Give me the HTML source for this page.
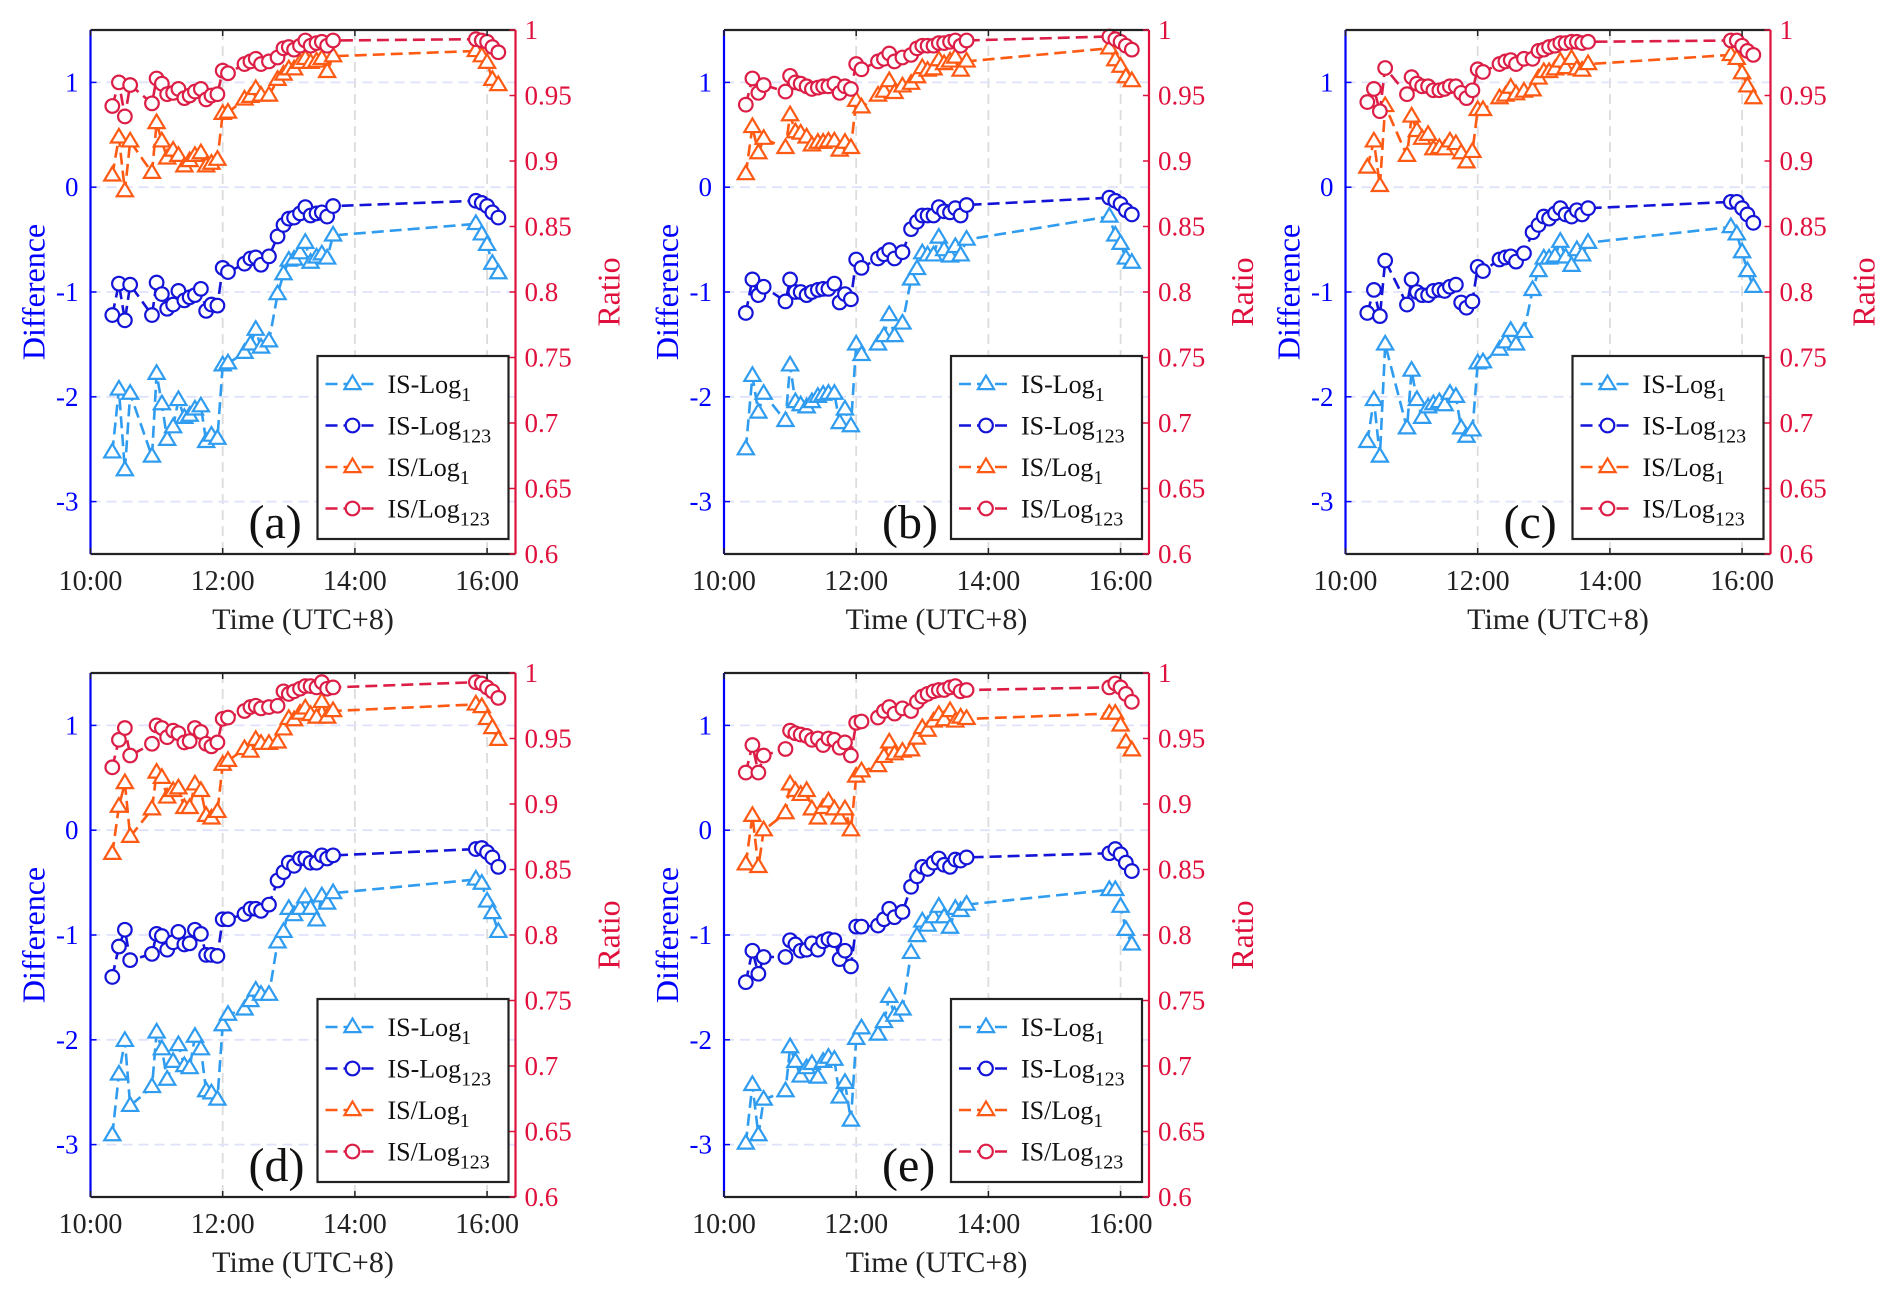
<!DOCTYPE html>
<html><head><meta charset="utf-8"><style>
html,body{margin:0;padding:0;background:#fff;}
svg{display:block;}
svg text{font-family:"Liberation Serif","Times New Roman",serif;}
</style></head>
<body>
<svg id="fig" width="1892" height="1297" viewBox="0 0 1892 1297" font-family="Liberation Serif, serif"></svg>
<script>
// ---- data ----
const times = [10.33,10.43,10.52,10.60,10.93,11.0,11.08,11.16,11.25,11.33,11.42,11.50,11.58,11.67,11.75,11.83,11.92,12.0,12.08,12.33,12.42,12.5,12.58,12.7,12.83,12.92,13.0,13.08,13.17,13.25,13.33,13.42,13.5,13.58,13.67,15.83,15.92,16.0,16.08,16.17];
const xTickValues = [10,12,14,16];
const xTickLabels = ["10:00","12:00","14:00","16:00"];
const leftTicks = [-3,-2,-1,0,1];
const rightTicks = [0.6,0.65,0.7,0.75,0.8,0.85,0.9,0.95,1];
const rightTickLabels = ["0.6","0.65","0.7","0.75","0.8","0.85","0.9","0.95","1"];
const panelLabels = ["(a)","(b)","(c)","(d)","(e)"];

const a_isLog1 = [-2.53,-1.93,-2.70,-1.97,-2.57,-1.78,-2.07,-2.41,-2.29,-2.03,-2.20,-2.18,-2.12,-2.09,-2.43,-2.37,-2.40,-1.70,-1.68,-1.58,-1.50,-1.36,-1.53,-1.47,-1.02,-0.83,-0.70,-0.69,-0.63,-0.53,-0.72,-0.67,-0.64,-0.68,-0.46,-0.35,-0.45,-0.55,-0.73,-0.82];
const a_isLog123 = [-1.22,-0.92,-1.27,-0.93,-1.22,-0.91,-1.02,-1.16,-1.12,-0.99,-1.08,-1.05,-1.03,-0.97,-1.18,-1.12,-1.13,-0.77,-0.81,-0.73,-0.68,-0.67,-0.74,-0.66,-0.47,-0.36,-0.30,-0.29,-0.25,-0.19,-0.27,-0.25,-0.24,-0.28,-0.18,-0.13,-0.15,-0.18,-0.24,-0.29];
const a_ratio1 = [0.889,0.918,0.877,0.915,0.891,0.929,0.915,0.902,0.908,0.904,0.896,0.900,0.904,0.906,0.896,0.898,0.901,0.936,0.937,0.947,0.949,0.955,0.950,0.950,0.962,0.966,0.970,0.970,0.975,0.978,0.975,0.976,0.978,0.968,0.980,0.984,0.980,0.975,0.962,0.958];
const a_ratio123 = [0.942,0.960,0.934,0.958,0.944,0.963,0.959,0.951,0.952,0.955,0.948,0.950,0.953,0.955,0.947,0.950,0.951,0.969,0.967,0.974,0.976,0.978,0.974,0.976,0.979,0.986,0.987,0.985,0.988,0.992,0.988,0.990,0.991,0.988,0.992,0.993,0.992,0.991,0.987,0.983];

const b_isLog1 = [-2.5,-1.8,-2.15,-1.97,-2.23,-1.7,-2.05,-2.08,-2.1,-2.05,-2.0,-1.98,-1.97,-1.97,-2.25,-2.12,-2.28,-1.5,-1.6,-1.5,-1.42,-1.22,-1.42,-1.3,-0.88,-0.78,-0.63,-0.65,-0.65,-0.48,-0.6,-0.66,-0.57,-0.65,-0.5,-0.28,-0.46,-0.54,-0.68,-0.72];
const b_isLog123 = [-1.2,-0.88,-1.03,-0.95,-1.09,-0.88,-1.0,-1.0,-1.03,-1.0,-0.98,-0.97,-0.97,-0.92,-1.1,-1.02,-1.07,-0.69,-0.77,-0.68,-0.64,-0.6,-0.68,-0.62,-0.4,-0.33,-0.27,-0.27,-0.27,-0.19,-0.23,-0.24,-0.2,-0.27,-0.17,-0.1,-0.13,-0.16,-0.22,-0.26];
const b_ratio1 = [0.890,0.926,0.906,0.917,0.910,0.935,0.922,0.921,0.918,0.912,0.914,0.914,0.915,0.915,0.908,0.914,0.910,0.946,0.941,0.950,0.953,0.961,0.952,0.957,0.959,0.964,0.971,0.969,0.970,0.977,0.974,0.976,0.979,0.969,0.976,0.986,0.977,0.972,0.964,0.961];
const b_ratio123 = [0.943,0.963,0.952,0.958,0.953,0.965,0.960,0.959,0.957,0.955,0.956,0.957,0.957,0.959,0.952,0.957,0.955,0.974,0.970,0.976,0.978,0.982,0.976,0.979,0.981,0.986,0.988,0.988,0.988,0.990,0.990,0.991,0.992,0.988,0.992,0.995,0.993,0.991,0.988,0.985];

const c_isLog1 = [-2.43,-2.03,-2.57,-1.5,-2.3,-1.75,-2.03,-2.2,-2.1,-2.07,-2.05,-2.08,-1.97,-2.0,-2.3,-2.38,-2.32,-1.68,-1.67,-1.55,-1.48,-1.37,-1.5,-1.38,-0.98,-0.8,-0.68,-0.68,-0.66,-0.52,-0.67,-0.75,-0.6,-0.65,-0.53,-0.38,-0.45,-0.62,-0.8,-0.95];
const c_isLog123 = [-1.2,-0.98,-1.23,-0.7,-1.12,-0.88,-1.0,-1.03,-1.03,-0.99,-0.98,-0.99,-0.95,-0.93,-1.1,-1.15,-1.09,-0.76,-0.8,-0.69,-0.67,-0.66,-0.71,-0.63,-0.43,-0.36,-0.28,-0.3,-0.25,-0.2,-0.26,-0.28,-0.22,-0.26,-0.2,-0.14,-0.14,-0.2,-0.26,-0.34];
const c_ratio1 = [0.895,0.915,0.881,0.942,0.904,0.934,0.923,0.917,0.920,0.909,0.910,0.909,0.915,0.913,0.906,0.899,0.907,0.939,0.939,0.948,0.950,0.956,0.951,0.953,0.954,0.963,0.968,0.968,0.970,0.976,0.971,0.978,0.970,0.969,0.974,0.981,0.978,0.967,0.957,0.948];
const c_ratio123 = [0.945,0.955,0.938,0.971,0.951,0.964,0.959,0.957,0.957,0.954,0.954,0.955,0.957,0.957,0.952,0.948,0.954,0.970,0.968,0.974,0.976,0.977,0.974,0.978,0.978,0.984,0.985,0.987,0.988,0.990,0.990,0.991,0.991,0.990,0.991,0.992,0.992,0.988,0.984,0.981];

const d_isLog1 = [-2.91,-2.33,-2.01,-2.63,-2.45,-1.93,-2.09,-2.38,-2.21,-2.05,-2.25,-2.27,-1.97,-2.09,-2.49,-2.51,-2.57,-1.86,-1.76,-1.71,-1.63,-1.53,-1.57,-1.57,-1.07,-0.97,-0.75,-0.81,-0.75,-0.64,-0.75,-0.86,-0.63,-0.70,-0.60,-0.47,-0.51,-0.68,-0.79,-0.97];
const d_isLog123 = [-1.40,-1.11,-0.95,-1.24,-1.18,-0.99,-1.01,-1.14,-1.07,-0.97,-1.09,-1.08,-0.95,-0.99,-1.19,-1.19,-1.20,-0.85,-0.85,-0.80,-0.75,-0.75,-0.77,-0.71,-0.48,-0.40,-0.31,-0.34,-0.27,-0.27,-0.31,-0.31,-0.24,-0.27,-0.24,-0.18,-0.17,-0.21,-0.26,-0.35];
const d_ratio1 = [0.862,0.898,0.916,0.875,0.896,0.924,0.920,0.905,0.910,0.912,0.897,0.897,0.915,0.910,0.891,0.889,0.894,0.930,0.933,0.942,0.940,0.949,0.946,0.946,0.947,0.957,0.965,0.964,0.969,0.973,0.968,0.966,0.978,0.966,0.971,0.976,0.974,0.965,0.958,0.949];
const d_ratio123 = [0.928,0.949,0.958,0.937,0.946,0.960,0.958,0.951,0.956,0.954,0.947,0.948,0.958,0.955,0.946,0.944,0.947,0.965,0.966,0.971,0.974,0.975,0.973,0.974,0.975,0.986,0.984,0.986,0.988,0.990,0.990,0.989,0.993,0.988,0.989,0.993,0.992,0.989,0.986,0.981];

const e_isLog1 = [-2.99,-2.43,-2.91,-2.57,-2.49,-2.07,-2.21,-2.35,-2.27,-2.23,-2.36,-2.21,-2.17,-2.19,-2.55,-2.41,-2.77,-1.99,-1.89,-1.95,-1.83,-1.59,-1.77,-1.71,-1.17,-1.01,-0.87,-0.91,-0.83,-0.73,-0.83,-0.93,-0.75,-0.77,-0.71,-0.57,-0.57,-0.73,-0.95,-1.09];
const e_isLog123 = [-1.45,-1.15,-1.37,-1.21,-1.21,-1.05,-1.09,-1.15,-1.14,-1.08,-1.14,-1.06,-1.04,-1.05,-1.23,-1.15,-1.30,-0.92,-0.92,-0.91,-0.85,-0.75,-0.83,-0.78,-0.54,-0.44,-0.35,-0.37,-0.31,-0.27,-0.33,-0.35,-0.28,-0.29,-0.26,-0.22,-0.18,-0.23,-0.31,-0.39];
const e_ratio1 = [0.854,0.891,0.852,0.880,0.893,0.915,0.910,0.907,0.910,0.896,0.889,0.897,0.902,0.896,0.889,0.896,0.880,0.921,0.925,0.929,0.936,0.947,0.938,0.940,0.941,0.950,0.958,0.956,0.963,0.968,0.964,0.971,0.963,0.966,0.965,0.969,0.969,0.960,0.947,0.941];
const e_ratio123 = [0.924,0.945,0.924,0.937,0.942,0.956,0.954,0.953,0.952,0.949,0.950,0.945,0.950,0.949,0.943,0.947,0.937,0.962,0.963,0.966,0.971,0.974,0.969,0.973,0.971,0.978,0.982,0.984,0.986,0.987,0.987,0.989,0.990,0.986,0.987,0.989,0.992,0.989,0.984,0.978];

const panelData = [
  [a_isLog1,a_isLog123,a_ratio1,a_ratio123],
  [b_isLog1,b_isLog123,b_ratio1,b_ratio123],
  [c_isLog1,c_isLog123,c_ratio1,c_ratio123],
  [d_isLog1,d_isLog123,d_ratio1,d_ratio123],
  [e_isLog1,e_isLog123,e_ratio1,e_ratio123]
];

// ---- layout ----
const layout = [[90.5,30],[724,30],[1345.5,30],[90.5,673],[724,673]];
const PW = 425, PH = 524;
const X0 = 10, X1 = 16.43, L0 = -3.5, L1 = 1.5, R0 = 0.6, R1 = 1.0;
const FONT = '"Liberation Serif", "Times New Roman", serif';
const seriesStyle = [
  {color:"#2f9cf0", marker:"tri", axis:"L", name:"is-log1"},
  {color:"#1414d8", marker:"circ", axis:"L", name:"is-log123"},
  {color:"#ff5a14", marker:"tri", axis:"R", name:"is-over-log1"},
  {color:"#dc1e46", marker:"circ", axis:"R", name:"is-over-log123"}
];
const legendNames = [["IS-Log","1"],["IS-Log","123"],["IS/Log","1"],["IS/Log","123"]];

const NS = "http://www.w3.org/2000/svg";
const svg = document.getElementById("fig");
function mk(tag, attrs, parent){
  const el = document.createElementNS(NS, tag);
  for (const k in attrs) el.setAttribute(k, attrs[k]);
  if (tag === "text") el.setAttribute("font-family", FONT);
  (parent||svg).appendChild(el);
  return el;
}
function markerEl(g, type, x, y, color){
  let el;
  if (type === "tri"){
    const s = 8.5;
    el = mk("polygon",{points:`${x},${y-s} ${x-s*0.95},${y+s*0.6} ${x+s*0.95},${y+s*0.6}`,fill:"#fff",stroke:color,"stroke-width":2.2},g);
  } else {
    el = mk("circle",{cx:x,cy:y,r:6.8,fill:"#fff",stroke:color,"stroke-width":2.2},g);
  }
  return el;
}

layout.forEach((pos, pi) => {
  const px = pos[0], py = pos[1];
  const g = mk("g",{});
  
  
  const xs = t => px + (t - X0) / (X1 - X0) * PW;
  const yl = v => py + PH - (v - L0) / (L1 - L0) * PH;
  const yr = v => py + PH - (v - R0) / (R1 - R0) * PH;

  // grid
  xTickValues.forEach(t => {
    if (t > X0){
      const gl = mk("line",{x1:xs(t),x2:xs(t),y1:py,y2:py+PH,stroke:"#dcdcdc","stroke-width":1.8,"stroke-dasharray":"10,6"},g);
      
      
    }
  });
  leftTicks.forEach(v => {
    const gl = mk("line",{x1:px,x2:px+PW,y1:yl(v),y2:yl(v),stroke:"#dfe2fb","stroke-width":1.8,"stroke-dasharray":"10,6"},g);
    
    
  });

  // series
  const vals = panelData[pi];
  seriesStyle.forEach((st, si) => {
    const sg = mk("g",{},g);
    
    
    const yf = st.axis === "L" ? yl : yr;
    const pts = times.map((t,i) => xs(t).toFixed(1) + "," + yf(vals[si][i]).toFixed(1)).join(" ");
    const pl = mk("polyline",{points:pts,fill:"none",stroke:st.color,"stroke-width":2.6,"stroke-dasharray":"12,6"},sg);
    
    
    times.forEach((t,i) => {
      const m = markerEl(sg, st.marker, xs(t), yf(vals[si][i]), st.color);
      
      
    });
  });

  // axes frame
  const top = mk("line",{x1:px,x2:px+PW,y1:py,y2:py,stroke:"#222","stroke-width":2.2},g);
  
  
  const bot = mk("line",{x1:px,x2:px+PW,y1:py+PH,y2:py+PH,stroke:"#222","stroke-width":2.2},g);
  
  
  const la = mk("line",{x1:px,x2:px,y1:py,y2:py+PH,stroke:"#0000ff","stroke-width":2.2},g);
  
  
  const ra = mk("line",{x1:px+PW,x2:px+PW,y1:py,y2:py+PH,stroke:"#e0103c","stroke-width":2.2},g);
  
  

  // x ticks
  xTickValues.forEach((t,i) => {
    mk("line",{x1:xs(t),x2:xs(t),y1:py+PH,y2:py+PH-6,stroke:"#222","stroke-width":1.5},g);
    mk("line",{x1:xs(t),x2:xs(t),y1:py,y2:py+6,stroke:"#222","stroke-width":1.5},g);
    const tl = mk("text",{x:xs(t),y:py+PH+36,"text-anchor":"middle","font-size":28,fill:"#222"},g);
    tl.textContent = xTickLabels[i];
    
    
  });
  leftTicks.forEach(v => {
    mk("line",{x1:px,x2:px+6,y1:yl(v),y2:yl(v),stroke:"#0000ff","stroke-width":1.5},g);
    const tl = mk("text",{x:px-12,y:yl(v)+9,"text-anchor":"end","font-size":27,fill:"#0000ff"},g);
    tl.textContent = String(v);
    
    
  });
  rightTicks.forEach((v,i) => {
    mk("line",{x1:px+PW,x2:px+PW-6,y1:yr(v),y2:yr(v),stroke:"#e0103c","stroke-width":1.5},g);
    const tl = mk("text",{x:px+PW+9,y:yr(v)+9,"text-anchor":"start","font-size":27,fill:"#e0103c"},g);
    tl.textContent = rightTickLabels[i];
    
    
  });

  // axis titles
  const xt = mk("text",{x:px+PW/2,y:py+PH+75,"text-anchor":"middle","font-size":30,fill:"#222"},g);
  xt.textContent = "Time (UTC+8)";
  
  
  const ylt = mk("text",{x:0,y:0,"text-anchor":"middle","font-size":32,fill:"#0000ff",transform:`translate(${px-46},${py+PH/2}) rotate(-90)`},g);
  ylt.textContent = "Difference";
  
  
  const yrt = mk("text",{x:0,y:0,"text-anchor":"middle","font-size":32,fill:"#e0103c",transform:`translate(${px+PW+104},${py+PH/2}) rotate(-90)`},g);
  yrt.textContent = "Ratio";
  
  

  // panel label
  const pl = mk("text",{x:px+158,y:py+PH-16,"font-size":48,fill:"#111"},g);
  pl.textContent = panelLabels[pi];
  
  

  // legend
  const lg = mk("g",{},g);
  
  
  mk("rect",{x:px+227,y:py+326,width:191,height:183,fill:"#fff",stroke:"#222","stroke-width":2.2},lg);
  seriesStyle.forEach((st, si) => {
    const ey = py + 354 + si*41.5;
    const eg = mk("g",{},lg);
    
    
    mk("line",{x1:px+235,x2:px+289,y1:ey,y2:ey,stroke:st.color,"stroke-width":2.6,"stroke-dasharray":"12,6"},eg);
    markerEl(eg, st.marker, px+262, ey, st.color);
    const t = mk("text",{x:px+297,y:ey+9,"font-size":26,fill:"#111"},eg);
    const s1 = mk("tspan",{},t); s1.textContent = legendNames[si][0];
    const s2 = mk("tspan",{dy:8,"font-size":20},t); s2.textContent = legendNames[si][1];
  });
});
</script>
</body></html>
